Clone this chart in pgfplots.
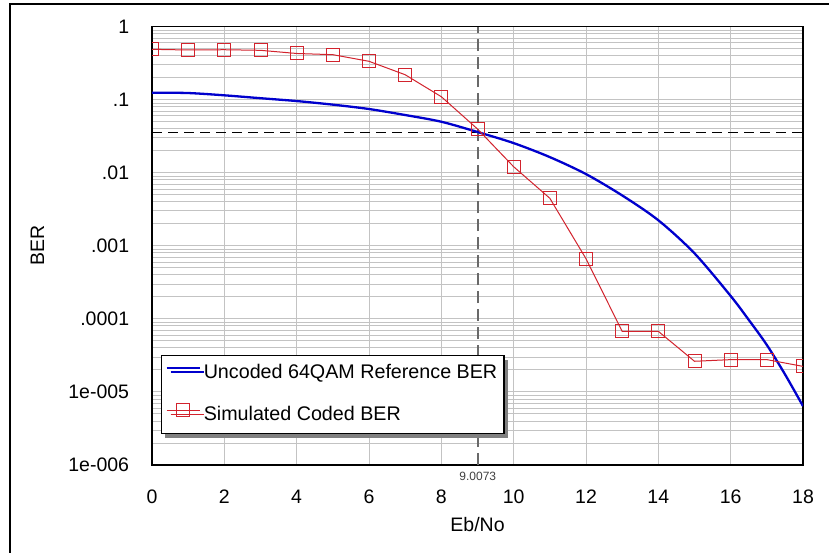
\documentclass[border=0pt]{standalone}
\usepackage{pgfplots}
\pgfplotsset{compat=1.18}
\usepackage{fontspec}
\setmainfont{Liberation Sans}
\usetikzlibrary{shadows}
\definecolor{blueline}{RGB}{0,0,205}
\definecolor{redline}{RGB}{210,35,45}
\definecolor{gridgray}{RGB}{195,195,195}
\definecolor{vdash}{RGB}{105,105,105}
\begin{document}
\begin{tikzpicture}
\useasboundingbox (0,0) rectangle (829bp,553bp);
\fill[white] (0,0) rectangle (829bp,553bp);
\draw[line width=1.3bp] (10bp,0) -- (10bp,549bp) -- (829bp,549bp);
\begin{axis}[
 at={(152bp,88bp)}, anchor=south west,
 scale only axis, width=651bp, height=438.3bp,
 xmin=0, xmax=18, ymode=log, ymin=1e-6, ymax=1,
 xtick={0,2,4,6,8,10,12,14,16,18},
 xticklabels={0,2,4,6,8,10,12,14,16,18},
 ytick={1e-6,1e-5,1e-4,1e-3,1e-2,1e-1,1},
 yticklabels={1e-006,1e-005,.0001,.001,.01,.1,1},
 minor ytick={2e-6,3e-6,4e-6,5e-6,6e-6,7e-6,8e-6,9e-6,
   2e-5,3e-5,4e-5,5e-5,6e-5,7e-5,8e-5,9e-5,
   2e-4,3e-4,4e-4,5e-4,6e-4,7e-4,8e-4,9e-4,
   2e-3,3e-3,4e-3,5e-3,6e-3,7e-3,8e-3,9e-3,
   2e-2,3e-2,4e-2,5e-2,6e-2,7e-2,8e-2,9e-2,
   2e-1,3e-1,4e-1,5e-1,6e-1,7e-1,8e-1,9e-1},
 major tick length=0pt, minor tick length=0pt,
 xmajorgrids, ymajorgrids, yminorgrids,
 major grid style={gridgray, line width=1bp},
 minor grid style={gridgray, line width=1bp},
 axis line style={line width=1.5bp},
 xticklabel style={font=\fontsize{19.5bp}{23bp}\selectfont, anchor=north, inner sep=0pt, yshift=-25bp},
 yticklabel style={font=\fontsize{19.5bp}{23bp}\selectfont, anchor=east, inner sep=0pt, xshift=-22.7bp},
 xlabel={Eb/No},
 xlabel style={at={(axis description cs:0.5,-0.118)}, anchor=north, inner sep=0pt, font=\fontsize{19.5bp}{23bp}\selectfont},
 ylabel={BER},
 ylabel style={at={(axis description cs:-0.1654,0.5)}, anchor=south, inner sep=0pt, font=\fontsize{19.5bp}{23bp}\selectfont},
 clip marker paths=true,
 legend cell align=left,
 legend style={at={(axis description cs:0.0134,0.251)}, anchor=north west,
   draw=black, line width=1.5bp, fill=white,
   font=\fontsize{19.7bp}{23bp}\selectfont,
   inner xsep=4bp, inner ysep=6bp, row sep=18bp,
   nodes={inner sep=3bp, text height=14bp, text depth=4bp},
   drop shadow={shadow xshift=4bp,shadow yshift=-4bp,fill=black!50,opacity=1}},
 legend image code/.code={\draw[mark repeat=2,mark phase=2,#1] plot coordinates {(0bp,5.5bp) (16.5bp,5.5bp) (33bp,5.5bp)};},
]
\addplot[black, line width=1.3bp, dash pattern=on 10bp off 6bp, forget plot] coordinates {(0,0.0358) (18,0.0358)};
\addplot[vdash, line width=2bp, dash pattern=on 12bp off 6bp, forget plot] coordinates {(9.0073,1e-6) (9.0073,1)};
\addplot[blueline, line width=2.3bp, smooth, no marks] coordinates {
(0,0.125) (1,0.1236) (2,0.115) (3,0.105) (4,0.096) (5,0.0857) (6,0.0747)
(7,0.0618) (8,0.050) (9,0.0362) (10,0.0255) (11,0.0164) (12,0.0096)
(13,0.0049) (14,0.00224) (15,7.9e-4) (16,2.06e-4) (16.5,9.7e-5) (17,4.4e-5)
(17.5,1.75e-5) (18,6.4e-6)};
\addlegendentry{Uncoded 64QAM Reference BER}
\addplot[redline, line width=1bp, mark=square, mark size=6.5bp, mark options={solid, fill=none}] coordinates {
(0,0.49) (1,0.48) (2,0.484) (3,0.475) (4,0.43) (5,0.414) (6,0.336) (7,0.22)
(8,0.110) (9,0.0398) (10,0.0121) (11,0.00448) (12,6.67e-4) (13,6.76e-5)
(14,6.76e-5) (15,2.63e-5) (16,2.77e-5) (17,2.77e-5) (18,2.24e-5)};
\addlegendentry{Simulated Coded BER}
\coordinate (vl) at (axis cs:9.0073,1e-6);
\end{axis}
\node[font=\fontsize{12bp}{14bp}\selectfont, text=black!75, inner sep=0pt] at ([yshift=-11.7bp]vl) {9.0073};
\end{tikzpicture}
\end{document}
